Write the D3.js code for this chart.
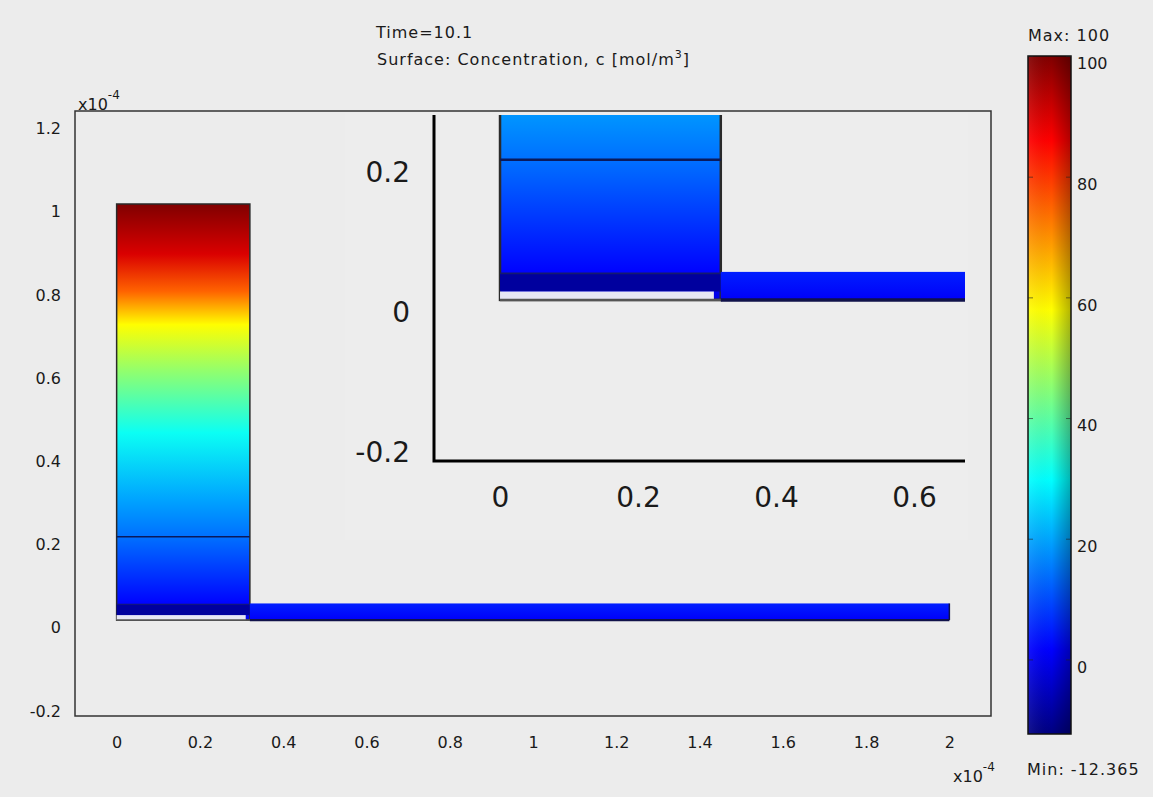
<!DOCTYPE html>
<html lang="en">
<head>
<meta charset="UTF-8">
<script src="https://d3js.org/d3.v7.min.js"></script>
<style>
  html, body { margin: 0; padding: 0; background: #ececec; }
  text { font-family: "DejaVu Sans", sans-serif; fill: #1a1a1a; }
</style>
</head>
<body>
<div id="chart"></div>
<script>
// ---- data (lengths in 1e-4 m, concentration in mol/m^3) ----
const xTicks = [0, 0.2, 0.4, 0.6, 0.8, 1, 1.2, 1.4, 1.6, 1.8, 2];
const yTicks = [-0.2, 0, 0.2, 0.4, 0.6, 0.8, 1, 1.2];
const insetXTicks = [0, 0.2, 0.4, 0.6];
const insetYTicks = [-0.2, 0, 0.2];
const cbTicks = [0, 20, 40, 60, 80, 100];
const cMin = -12.365, cMax = 100;

const chamberX = [0, 0.32], chamberY = [0, 1];
const channelX = [0.32, 2.0], channelY = [0, 0.04];
const gapX = [0, 0.31], gapY = [0, 0.012];
const bandY = [0.012, 0.038], bandC = -9;
const interfaceY = 0.2;
const channelC = [5, 1];            // top, bottom of channel

// concentration read along the chamber height
const profileY = [0, 0.04, 0.1, 0.2, 0.29, 0.45, 0.6, 0.71, 0.79, 0.88, 1.0];
const profileC = [-1, 2, 6.5, 14, 19.7, 31, 46, 58, 75, 90, 100];

// jet colour map stops
const jetT = [0, 0.125, 0.375, 0.625, 0.875, 1];
const jetColors = ['#000080', '#0000ff', '#00ffff', '#ffff00', '#ff0000', '#800000'];

const W = 1153, H = 797;
const svg = d3.select('#chart').append('svg').attr('width', W).attr('height', H);
svg.append('rect').attr('width', W).attr('height', H).attr('fill', '#ececec');
const defs = svg.append('defs');

const color = d3.scaleLinear()
    .domain(jetT.map(t => cMin + t * (cMax - cMin)))
    .range(jetColors);

const fmt = d => String(+d.toFixed(1));

// main axes frame
const frame = {left: 75, right: 991, top: 111, bottom: 716};
const x = d3.scaleLinear().domain([-0.1, 2.1]).range([frame.left, frame.right]);
const y = d3.scaleLinear().domain([-0.2305, 1.2235]).range([frame.bottom, frame.top]);

// inset frame
const inset = {left: 434, right: 965, top: 115, bottom: 461};
const xi = d3.scaleLinear().domain([-0.0957, 0.674]).range([inset.left, inset.right]);
const yi = d3.scaleLinear().domain([-0.23, 0.264]).range([inset.bottom, inset.top]);

// gradients
const chamberGrad = defs.append('linearGradient').attr('id', 'chamberGrad')
    .attr('x1', 0).attr('y1', 1).attr('x2', 0).attr('y2', 0);
profileY.forEach((h, i) => chamberGrad.append('stop')
    .attr('offset', (h - chamberY[0]) / (chamberY[1] - chamberY[0]))
    .attr('stop-color', color(profileC[i])));

const channelGrad = defs.append('linearGradient').attr('id', 'channelGrad')
    .attr('x1', 0).attr('y1', 0).attr('x2', 0).attr('y2', 1);
channelGrad.append('stop').attr('offset', 0).attr('stop-color', color(channelC[0]));
channelGrad.append('stop').attr('offset', 1).attr('stop-color', color(channelC[1]));

const cbGrad = defs.append('linearGradient').attr('id', 'cbGrad')
    .attr('x1', 0).attr('y1', 1).attr('x2', 0).attr('y2', 0);
jetT.forEach((t, i) => cbGrad.append('stop').attr('offset', t).attr('stop-color', jetColors[i]));

const shade = defs.append('linearGradient').attr('id', 'shade')
    .attr('x1', 0).attr('y1', 0).attr('x2', 1).attr('y2', 0);
shade.append('stop').attr('offset', 0).attr('stop-color', '#fff').attr('stop-opacity', 0.08);
shade.append('stop').attr('offset', 0.55).attr('stop-color', '#000').attr('stop-opacity', 0);
shade.append('stop').attr('offset', 1).attr('stop-color', '#000').attr('stop-opacity', 0.3);

defs.append('clipPath').attr('id', 'insetClip').append('rect')
    .attr('x', inset.left).attr('y', inset.top)
    .attr('width', inset.right - inset.left).attr('height', inset.bottom - inset.top);

function drawGeometry(g, sx, sy, lw) {
    // chamber
    g.append('rect')
        .attr('x', sx(chamberX[0])).attr('y', sy(chamberY[1]))
        .attr('width', sx(chamberX[1]) - sx(chamberX[0]))
        .attr('height', sy(chamberY[0]) - sy(chamberY[1]))
        .attr('fill', 'url(#chamberGrad)')
        .attr('stroke', '#2a2a2a').attr('stroke-width', lw);
    // dark band at the chamber foot
    g.append('rect')
        .attr('x', sx(chamberX[0])).attr('y', sy(bandY[1]))
        .attr('width', sx(chamberX[1]) - sx(chamberX[0]))
        .attr('height', sy(bandY[0]) - sy(bandY[1]))
        .attr('fill', color(bandC));
    // interface line
    g.append('line')
        .attr('x1', sx(chamberX[0])).attr('x2', sx(chamberX[1]))
        .attr('y1', sy(interfaceY)).attr('y2', sy(interfaceY))
        .attr('stroke', '#0a1a5c').attr('stroke-width', lw);
    g.append('line')
        .attr('x1', sx(chamberX[0])).attr('x2', sx(chamberX[1]))
        .attr('y1', sy(bandY[1])).attr('y2', sy(bandY[1]))
        .attr('stroke', '#141a70').attr('stroke-width', lw * 0.7);
    // channel
    g.append('rect')
        .attr('x', sx(channelX[0])).attr('y', sy(channelY[1]))
        .attr('width', sx(channelX[1]) - sx(channelX[0]))
        .attr('height', sy(channelY[0]) - sy(channelY[1]))
        .attr('fill', 'url(#channelGrad)');
    g.append('line')
        .attr('x1', sx(channelX[0])).attr('x2', sx(channelX[1]))
        .attr('y1', sy(channelY[0])).attr('y2', sy(channelY[0]))
        .attr('stroke', '#10124a').attr('stroke-width', lw * 1.4);
    g.append('line')
        .attr('x1', sx(channelX[1])).attr('x2', sx(channelX[1]))
        .attr('y1', sy(channelY[0])).attr('y2', sy(channelY[1]))
        .attr('stroke', '#10124a').attr('stroke-width', lw);
    // light gap at the bottom
    g.append('rect')
        .attr('x', sx(gapX[0])).attr('y', sy(gapY[1]))
        .attr('width', sx(gapX[1]) - sx(gapX[0]))
        .attr('height', sy(gapY[0]) - sy(gapY[1]))
        .attr('fill', '#e6e6f4');
    g.append('line')
        .attr('x1', sx(chamberX[0])).attr('x2', sx(chamberX[1]))
        .attr('y1', sy(0)).attr('y2', sy(0))
        .attr('stroke', '#555').attr('stroke-width', lw);
}

// main frame
svg.append('rect')
    .attr('x', frame.left).attr('y', frame.top)
    .attr('width', frame.right - frame.left).attr('height', frame.bottom - frame.top)
    .attr('fill', '#ececec').attr('stroke', '#333').attr('stroke-width', 1.5);

drawGeometry(svg.append('g'), x, y, 1.5);

// main axes
const gx = svg.append('g').attr('transform', `translate(0,${frame.bottom})`)
    .call(d3.axisBottom(x).tickValues(xTicks).tickSize(0).tickPadding(21).tickFormat(fmt));
const gy = svg.append('g').attr('transform', `translate(${frame.left},0)`)
    .call(d3.axisLeft(y).tickValues(yTicks).tickSize(0).tickPadding(14).tickFormat(fmt));
[gx, gy].forEach(g => {
    g.select('.domain').remove();
    g.selectAll('text').attr('font-family', '"DejaVu Sans", sans-serif')
        .attr('font-size', 16).attr('fill', '#1a1a1a');
});
gy.selectAll('text').attr('dy', '0.8em');

// exponent labels
const e1 = svg.append('text').attr('x', 78).attr('y', 110).attr('font-size', 16);
e1.append('tspan').text('x10');
e1.append('tspan').attr('dy', -11).attr('font-size', 12).text('-4');
const e2 = svg.append('text').attr('x', 953).attr('y', 782).attr('font-size', 16);
e2.append('tspan').text('x10');
e2.append('tspan').attr('dy', -11).attr('font-size', 12).text('-4');

// inset
svg.append('rect').attr('x', 345).attr('y', 113).attr('width', 623).attr('height', 427)
    .attr('fill', '#ededed');
drawGeometry(svg.append('g').attr('clip-path', 'url(#insetClip)'), xi, yi, 2.5);
svg.append('path')
    .attr('d', `M${inset.left},${inset.top}V${inset.bottom}H${inset.right}`)
    .attr('fill', 'none').attr('stroke', '#000').attr('stroke-width', 3);
const gxi = svg.append('g').attr('transform', `translate(0,${inset.bottom})`)
    .call(d3.axisBottom(xi).tickValues(insetXTicks).tickSize(0).tickPadding(26).tickFormat(fmt));
const gyi = svg.append('g').attr('transform', `translate(${inset.left},0)`)
    .call(d3.axisLeft(yi).tickValues(insetYTicks).tickSize(0).tickPadding(24).tickFormat(fmt));
[gxi, gyi].forEach(g => {
    g.select('.domain').remove();
    g.selectAll('text').attr('font-family', '"DejaVu Sans", sans-serif')
        .attr('font-size', 28).attr('fill', '#111');
});
gyi.selectAll('text').attr('dy', '0.78em');

// titles
svg.append('text').attr('x', 376).attr('y', 38).attr('font-size', 16)
    .attr('letter-spacing', 1).text('Time=10.1');
const t2 = svg.append('text').attr('x', 377).attr('y', 65).attr('font-size', 16)
    .attr('letter-spacing', 1);
t2.append('tspan').text('Surface: Concentration, c [mol/m');
t2.append('tspan').attr('dy', -7).attr('font-size', 11).text('3');
t2.append('tspan').attr('dy', 7).text(']');

// colour bar
const cb = {left: 1028, right: 1071, top: 56, bottom: 734};
const cy = d3.scaleLinear().domain([cMin, cMax]).range([cb.bottom, cb.top]);
svg.append('rect').attr('x', cb.left).attr('y', cb.top)
    .attr('width', cb.right - cb.left).attr('height', cb.bottom - cb.top)
    .attr('fill', 'url(#cbGrad)');
svg.append('rect').attr('x', cb.left).attr('y', cb.top)
    .attr('width', cb.right - cb.left).attr('height', cb.bottom - cb.top)
    .attr('fill', 'url(#shade)').attr('stroke', '#111').attr('stroke-width', 1.5);
const gcbR = svg.append('g').attr('transform', `translate(${cb.right},0)`)
    .call(d3.axisRight(cy).tickValues(cbTicks).tickSize(-5).tickPadding(6));
const gcbL = svg.append('g').attr('transform', `translate(${cb.left},0)`)
    .call(d3.axisLeft(cy).tickValues(cbTicks).tickSize(-5).tickFormat(''));
[gcbR, gcbL].forEach(g => {
    g.select('.domain').remove();
    g.selectAll('.tick line').attr('stroke', '#222').attr('stroke-opacity', 0.6);
});
gcbR.selectAll('text').attr('font-family', '"DejaVu Sans", sans-serif')
    .attr('font-size', 16).attr('fill', '#1a1a1a').attr('dy', '0.8em').attr('x', 6);

svg.append('text').attr('x', 1028).attr('y', 41).attr('font-size', 16)
    .attr('letter-spacing', 1).text('Max: ' + cMax);
svg.append('text').attr('x', 1027).attr('y', 775).attr('font-size', 16)
    .attr('letter-spacing', 1).text('Min: ' + cMin);
</script>
</body>
</html>
